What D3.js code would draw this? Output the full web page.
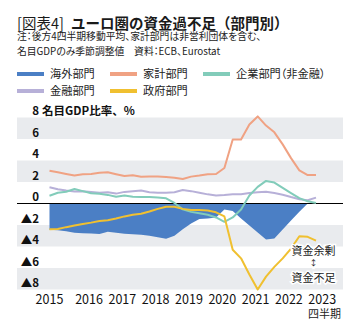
<!DOCTYPE html>
<html lang="ja">
<head>
<meta charset="utf-8">
<script src="https://cdn.jsdelivr.net/npm/d3@7"></script>
<style>
  body { margin: 0; background: #fff; }
  svg { display: block; font-family: "Noto Sans CJK JP", "Noto Sans", sans-serif; }
  .palt { font-feature-settings: "palt"; }
</style>
</head>
<body>
<svg id="chart"></svg>
<script>
// euro area net lending / borrowing by sector, % of GDP, 4Q moving average
// quarters 2015Q1 .. 2023Q1
let quarters = [];
d3.range(2015, 2024).forEach((y) => {
    [1, 2, 3, 4].forEach((q) => quarters.push(y + 'Q' + q));
});
quarters = quarters.slice(0, 33);

let overseas = [-2.45, -2.48, -2.58, -2.72, -2.76, -2.8, -2.84, -2.62, -2.72, -2.82, -2.85,
    -2.9, -3.0, -3.15, -3.28, -3.0, -2.4, -1.85, -1.45, -1.4, -1.3, -0.55, -0.7, -1.4, -2.05,
    -2.7, -3.35, -3.25, -2.43, -1.58, -0.76, 0.0, 0.1];
let household = [3.05, 2.9, 2.75, 2.6, 2.72, 2.75, 2.85, 2.9, 2.72, 2.55, 2.62, 2.48, 2.52,
    2.52, 2.46, 2.4, 2.28, 2.5, 2.6, 2.72, 2.74, 3.3, 5.95, 5.95, 7.35, 8.1, 7.25, 6.62, 5.5,
    4.22, 3.08, 2.64, 2.64];
let corporate = [0.72, 1.0, 1.1, 1.35, 1.15, 0.95, 0.9, 0.8, 0.62, 0.75, 0.62, 0.6, 0.6, 0.55,
    0.48, 0.05, -0.55, -0.78, -0.9, -1.05, -1.3, -1.7, -1.3, -0.55, 0.75, 1.55, 2.1, 1.95, 1.45,
    0.97, 0.5, 0.2, 0.05];
let financial = [1.52, 1.32, 1.2, 1.12, 1.15, 1.08, 1.0, 1.05, 0.92, 1.08, 1.15, 1.2, 1.05,
    1.0, 1.0, 1.05, 1.25, 1.15, 1.0, 0.85, 0.75, 0.78, 0.85, 0.85, 0.97, 1.05, 1.1, 0.98, 0.82,
    0.6, 0.4, 0.3, 0.55];
let government = [-2.4, -2.38, -2.2, -2.05, -1.9, -1.78, -1.62, -1.55, -1.4, -1.2, -1.05,
    -0.95, -0.75, -0.5, -0.3, -0.3, -0.5, -0.6, -0.6, -0.65, -0.82, -1.2, -4.3, -5.1, -6.6,
    -8.0, -6.8, -5.9, -5.1, -4.2, -3.05, -3.1, -3.45];

let years = [2015, 2016, 2017, 2018, 2019, 2020, 2021, 2022, 2023];
let yTicks = [8, 6, 4, 2, 0, -2, -4, -6, -8];
let legendNames = ['海外部門', '家計部門', '企業部門（非金融）', '金融部門', '政府部門'];

let colors = {
    overseas: '#4b7fc5',
    household: '#f0a283',
    corporate: '#82ccba',
    financial: '#b7b0d8',
    government: '#f0c030',
};
let legendColors = [colors.overseas, colors.household, colors.corporate, colors.financial, colors.government];

let width = 360;
let height = 332;
let bandLeft = 17;
let bandRight = 343;

let svg = d3.select('#chart').attr('width', width).attr('height', height);

let xScale = d3.scaleLinear().domain([0, quarters.length - 1]).range([49.5, 316]);
let yScale = d3.scaleLinear().domain([-8, 8]).range([289.5, 117.5]);

// year labels sit mid-year, the first one under the first quarter
let yearPos = (yr) => (yr === years[0] ? 0 : (yr - 2015) * 4 + 0.75);

// title and notes
svg.append('text').attr('x', 17).attr('y', 29).attr('fill', '#1a1a1a')
    .attr('font-size', 14.5).text('[図表4]');
svg.append('text').attr('x', 71).attr('y', 29).attr('fill', '#1a1a1a')
    .attr('font-size', 14.5).attr('font-weight', 700).text('ユーロ圏の資金過不足（部門別）');

svg.append('text').attr('class', 'palt').attr('x', 17).attr('y', 40)
    .attr('font-size', 9.8).attr('fill', '#222')
    .text('注：後方4四半期移動平均、家計部門は非営利団体を含む、');
svg.append('text').attr('class', 'palt').attr('x', 17).attr('y', 54.5)
    .attr('font-size', 9.8).attr('fill', '#222')
    .text('名目GDPのみ季節調整値　資料：ECB、Eurostat');

// legend
let legendPos = [[17, 74], [110, 74], [203, 74], [17, 91], [110, 91]];
let legend = svg.append('g');
legendNames.forEach((name, i) => {
    let [lx, ly] = legendPos[i];
    legend.append('rect').attr('x', lx).attr('y', ly - 2).attr('width', 27).attr('height', 4)
        .attr('fill', legendColors[i]);
    legend.append('text').attr('class', 'palt').attr('x', lx + 33).attr('y', ly + 4)
        .attr('font-size', 11.2).attr('fill', '#222').text(name);
});

// alternating background bands
let bands = [[6, 8], [2, 4], [-4, -2], [-8, -6]];
svg.append('g').selectAll('rect')
    .data(bands)
    .enter()
    .append('rect')
    .attr('x', bandLeft)
    .attr('width', bandRight - bandLeft)
    .attr('y', (d) => yScale(d[1]))
    .attr('height', (d) => yScale(d[0]) - yScale(d[1]))
    .attr('fill', '#e9ebee');

// y tick labels
svg.append('g').selectAll('text')
    .data(yTicks)
    .enter()
    .append('text')
    .attr('x', 39)
    .attr('y', (d) => yScale(d) - 2.5)
    .attr('text-anchor', 'end')
    .attr('font-size', 11.5)
    .attr('font-weight', 700)
    .attr('fill', '#111')
    .text((d) => (d < 0 ? '▲' + Math.abs(d) : d));

svg.append('text').attr('x', 42).attr('y', yScale(8) - 3)
    .attr('font-size', 11.5).attr('font-weight', 700).attr('fill', '#111')
    .text('名目GDP比率、%');

// overseas sector as a filled area
let area = d3.area()
    .x((d, i) => xScale(i))
    .y0(yScale(0))
    .y1((d) => yScale(d));
svg.append('path').datum(overseas).attr('d', area).attr('fill', colors.overseas);

// zero line
svg.append('line')
    .attr('x1', bandLeft).attr('x2', bandRight)
    .attr('y1', yScale(0)).attr('y2', yScale(0))
    .attr('stroke', '#000').attr('stroke-width', 1.2);

let line = d3.line()
    .x((d, i) => xScale(i))
    .y((d) => yScale(d));

[[financial, colors.financial], [household, colors.household],
 [corporate, colors.corporate], [government, colors.government]].forEach(([s, c]) => {
    svg.append('path').datum(s).attr('d', line)
        .attr('fill', 'none').attr('stroke', c).attr('stroke-width', 2)
        .attr('stroke-linejoin', 'round');
});

// x axis labels
svg.append('g').selectAll('text')
    .data(years)
    .enter()
    .append('text')
    .attr('x', (d) => xScale(yearPos(d)))
    .attr('y', 304)
    .attr('text-anchor', 'middle')
    .attr('font-size', 12.5)
    .attr('fill', '#111')
    .text((d) => d);

svg.append('text').attr('x', 341).attr('y', 318).attr('text-anchor', 'end')
    .attr('font-size', 11).attr('fill', '#222').text('四半期');

// surplus / deficit note
let note = svg.append('g').attr('fill', '#222').attr('text-anchor', 'middle');
[['資金余剰', 254.5, 11], ['↕', 265.5, 8], ['資金不足', 281.5, 11]].forEach(([t, y, fs]) => {
    note.append('text').attr('x', 313.5).attr('y', y).attr('font-size', fs)
        .attr('stroke', '#fff').attr('stroke-width', 3).attr('paint-order', 'stroke')
        .text(t);
});
</script>
</body>
</html>
